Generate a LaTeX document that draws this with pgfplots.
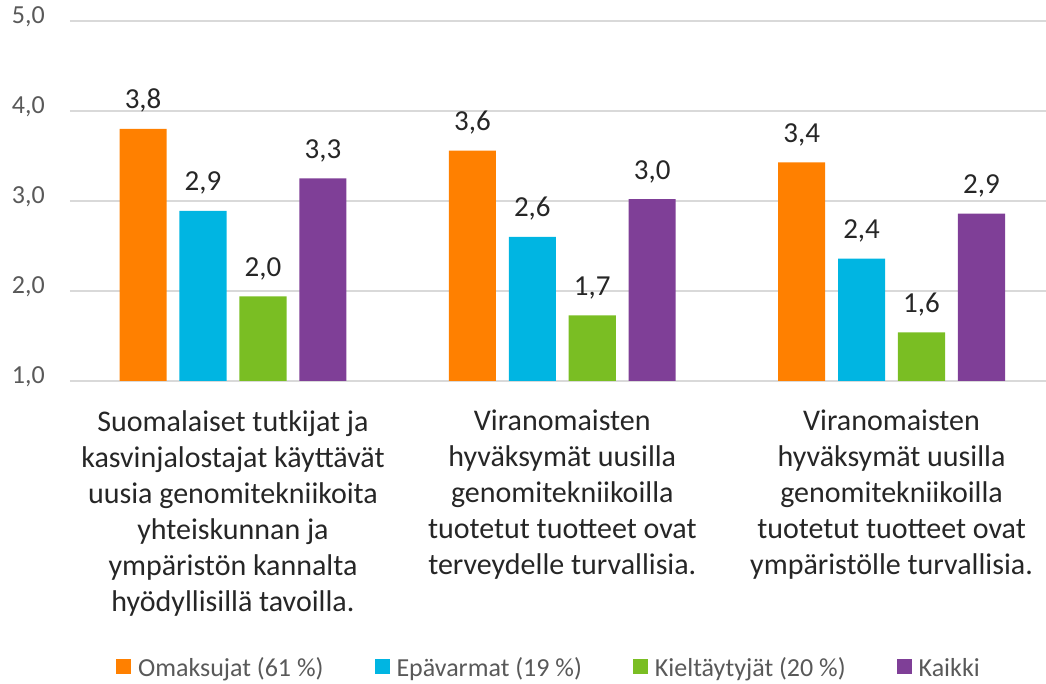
\documentclass[border=0pt]{standalone}
\usepackage{pgfplots}
\usepackage{pgfplotstable}
\pgfplotsset{compat=1.18}
\usepackage{fontspec}
\setmainfont{Carlito}
\definecolor{cOr}{RGB}{255,128,0}
\definecolor{cBl}{RGB}{0,181,226}
\definecolor{cGr}{RGB}{122,190,35}
\definecolor{cPu}{RGB}{127,63,151}
\definecolor{gridc}{RGB}{217,217,217}
\definecolor{tickc}{RGB}{89,89,89}
\definecolor{labc}{RGB}{38,38,38}

\pgfplotstableread{
x y l
-0.273 3.80 3,8
0.727 3.56 3,6
1.727 3.43 3,4
}\orData
\pgfplotstableread{
x y l
-0.091 2.89 2,9
0.909 2.60 2,6
1.909 2.36 2,4
}\blData
\pgfplotstableread{
x y l
0.091 1.94 2,0
1.091 1.73 1,7
2.091 1.54 1,6
}\grData
\pgfplotstableread{
x y l
0.273 3.25 3,3
1.273 3.02 3,0
2.273 2.86 2,9
}\puData

\begin{document}
\begin{tikzpicture}
\useasboundingbox (-70pt,-303pt) rectangle (976pt,381pt);
\begin{axis}[
  at={(0,0)}, anchor=south west,
  scale only axis, width=976pt, height=360pt,
  xmin=-0.495, xmax=2.469, ymin=1, ymax=5,
  ytick={1,2,3,4,5},
  xtick={0,1,2},
  xticklabels={
    {Suomalaiset tutkijat ja\\kasvinjalostajat käyttävät\\uusia genomitekniikoita\\yhteiskunnan ja\\ympäristön kannalta\\hyödyllisillä tavoilla.},
    {Viranomaisten\\hyväksymät uusilla\\genomitekniikoilla\\tuotetut tuotteet ovat\\terveydelle turvallisia.},
    {Viranomaisten\\hyväksymät uusilla\\genomitekniikoilla\\tuotetut tuotteet ovat\\ympäristölle turvallisia.}},
  axis line style={draw=none},
  major tick length=0pt,
  ymajorgrids, grid style={gridc, line width=2pt},
  yticklabel style={font=\fontsize{26}{30}\selectfont, text=tickc, anchor=mid east, inner sep=0pt, xshift=-25pt,
    /pgf/number format/.cd, fixed, fixed zerofill, precision=1, use comma, assume math mode=true},
  xticklabel style={font=\fontsize{30}{36}\selectfont, text=labc, align=center, anchor=north, inner sep=0pt, yshift=-29pt},
  legend style={at={(0.047,-0.797)}, anchor=west, draw=none, fill=none, inner sep=0pt,
    legend columns=4, font=\fontsize{26}{30}\selectfont, text=tickc,
    /tikz/every odd column/.append style={column sep=7pt},
    /tikz/every even column/.append style={column sep=51pt},
    nodes={inner sep=0pt}},
  legend cell align=left,
  legend image code/.code={\fill[#1] (0pt,-6pt) rectangle (15pt,9pt);},
  point meta=explicit symbolic,
  nodes near coords={\pgfplotspointmeta},
  every node near coord/.append style={anchor=base, inner sep=0pt, yshift=20pt, font=\fontsize{29}{30}\selectfont, text=labc},
]
\addplot[ybar, bar width=0.143, bar shift=0pt, fill=cOr, draw=none] table[x=x, y=y, meta=l] {\orData};
\addlegendentry{Omaksujat (61 \%)}
\addplot[ybar, bar width=0.143, bar shift=0pt, fill=cBl, draw=none] table[x=x, y=y, meta=l] {\blData};
\addlegendentry{Epävarmat (19 \%)}
\addplot[ybar, bar width=0.143, bar shift=0pt, fill=cGr, draw=none] table[x=x, y=y, meta=l] {\grData};
\addlegendentry{Kieltäytyjät (20 \%)}
\addplot[ybar, bar width=0.143, bar shift=0pt, fill=cPu, draw=none] table[x=x, y=y, meta=l] {\puData};
\addlegendentry{Kaikki}
\end{axis}
\end{tikzpicture}
\end{document}
